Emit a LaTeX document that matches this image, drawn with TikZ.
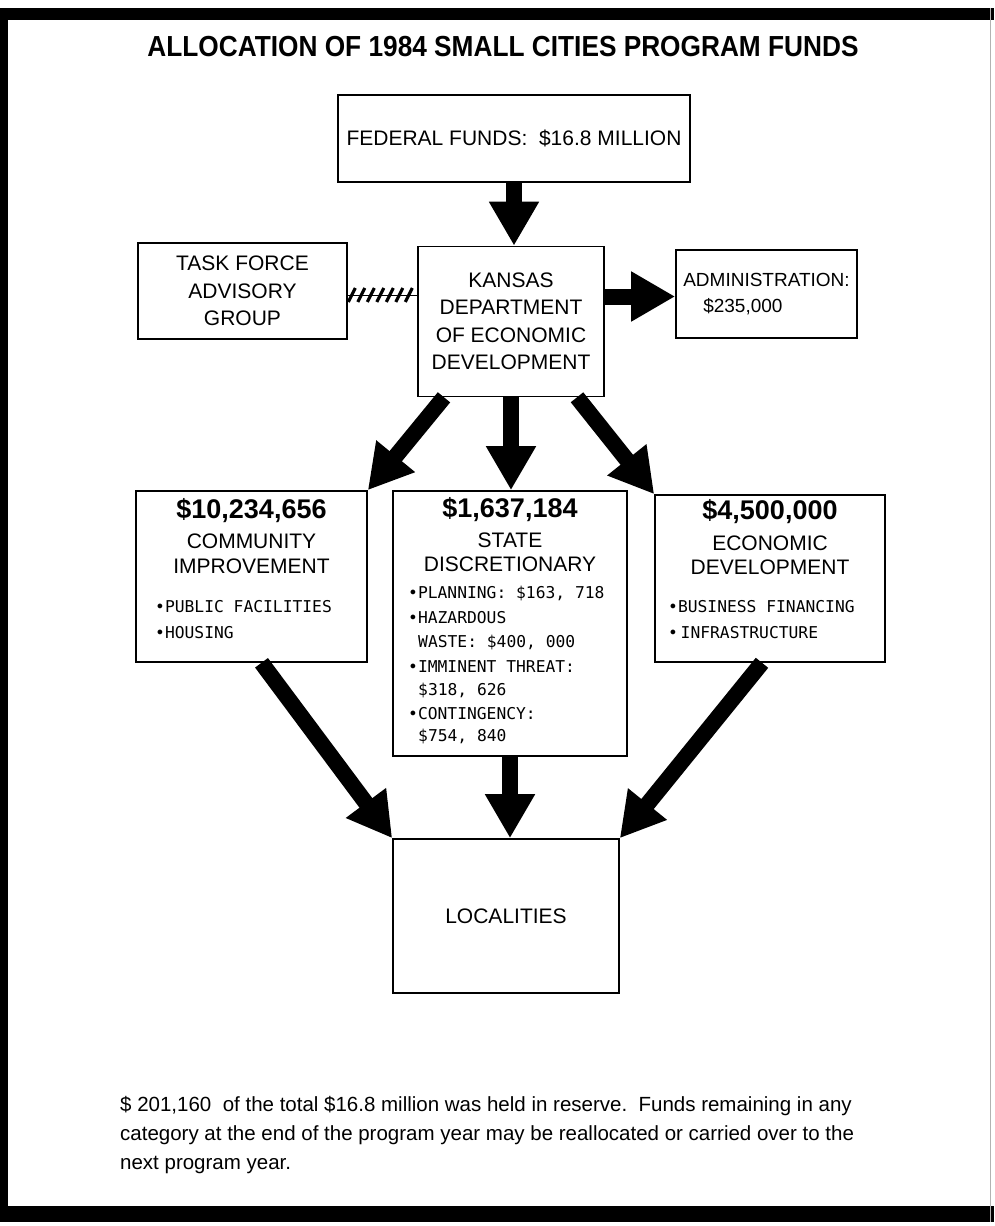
\documentclass[tikz,border=0pt]{standalone}
\usepackage{fontspec}
\usepackage{graphicx}
\setmainfont{Liberation Sans}
\newfontfamily\monof{DejaVu Sans Mono}
\usetikzlibrary{arrows.meta,decorations.markings}
\tikzset{
  box/.style={draw, line width=1.6pt, inner sep=0pt, align=center,
    font=\fontsize{21}{27.5}\selectfont},
  fatarrow/.style={line width=16pt, -{Triangle[length=44pt,width=47pt]}},
  hatchlink/.style={decoration={markings,
      mark=between positions 4pt and -3pt step 9.5pt with
      {\draw[line width=3.2pt] (-3.5pt,-7pt) -- (3.5pt,7pt);}},
    postaction=decorate},
  amt/.style={font=\bfseries\fontsize{27}{30}\selectfont, inner sep=0pt},
  cat/.style={font=\fontsize{21}{25}\selectfont, inner sep=0pt},
  item/.style={font=\monof\fontsize{16.3}{20}\selectfont, inner sep=0pt, anchor=west},
}
\begin{document}
\begin{tikzpicture}[x=1pt,y=-1pt]
\useasboundingbox (0,0) rectangle (994,1226);
% frame
\fill (0,8) rectangle (994,20);
\fill (0,8) rectangle (8,1222);
\fill (0,1206) rectangle (994,1222);
\draw[gray!60, line width=1pt] (990,8) -- (990,1222);
% title
\node[inner sep=0pt] (title) at (503,47)
  {\scalebox{0.905}[1]{\bfseries\fontsize{29}{30}\selectfont ALLOCATION OF 1984 SMALL CITIES PROGRAM FUNDS}};
% boxes
\node[box, minimum width=352pt, minimum height=87pt] (fed) at (514,138.5) {FEDERAL FUNDS:\ \ \$16.8 MILLION};
\node[box, minimum width=209pt, minimum height=96pt] (task) at (242.5,291) {TASK FORCE\\ADVISORY\\GROUP};
\node[box, minimum width=186pt, minimum height=150pt] (kansas) at (511,321.5) {KANSAS\\DEPARTMENT\\OF ECONOMIC\\DEVELOPMENT};
\node[box, minimum width=181pt, minimum height=88pt, align=left, font=\fontsize{19}{26}\selectfont] (admin) at (766.5,294) {ADMINISTRATION:\\\hspace*{20pt}\$235,000};
\node[box, minimum width=231pt, minimum height=171pt] (ci) at (251.5,576.5) {};
\node[box, minimum width=234pt, minimum height=265pt] (sd) at (510,623.5) {};
\node[box, minimum width=230pt, minimum height=167pt] (ed) at (770,578.5) {};
\node[box, minimum width=226pt, minimum height=154pt] (loc) at (506,916) {LOCALITIES};
% texts CI
\node[amt] (ciamt) at (251.5,511) {\$10,234,656};
\node[cat] (cicat1) at (251.5,541) {COMMUNITY};
\node[cat] (cicat2) at (251.5,566) {IMPROVEMENT};
\node[item] (ci1) at (155,607) {•PUBLIC FACILITIES};
\node[item] (ci2) at (155,633) {•HOUSING};
% texts SD
\node[amt] (sdamt) at (510,510) {\$1,637,184};
\node[cat] (sdcat1) at (510,540) {STATE};
\node[cat] (sdcat2) at (510,564) {DISCRETIONARY};
\node[item] (sd1) at (408,593) {•PLANNING: \$163, 718};
\node[item] (sd2) at (408,618) {•HAZARDOUS};
\node[item] (sd3) at (418,642) {WASTE: \$400, 000};
\node[item] (sd4) at (408,667) {•IMMINENT THREAT:};
\node[item] (sd5) at (418,690) {\$318, 626};
\node[item] (sd6) at (408,714) {•CONTINGENCY:};
\node[item] (sd7) at (418,736) {\$754, 840};
% texts ED
\node[amt] (edamt) at (770,512) {\$4,500,000};
\node[cat] (edcat1) at (770,543) {ECONOMIC};
\node[cat] (edcat2) at (770,567) {DEVELOPMENT};
\node[item] (ed1) at (668,607) {•BUSINESS FINANCING};
\node[item] (ed2) at (668,633) {•\,INFRASTRUCTURE};
% connectors
\draw[fatarrow] (fed.south) -- (fed.south |- kansas.north);
\draw[fatarrow] ([yshift=25pt]kansas.east) -- ([yshift=25pt]kansas.east -| admin.west);
\draw[hatchlink] ([yshift=-4pt]task.east) -- ([yshift=-4pt]task.east -| kansas.west);
\draw[fatarrow] ([xshift=-67pt]kansas.south) -- (ci.north east);
\draw[fatarrow] (kansas.south) -- (kansas.south |- sd.north);
\draw[fatarrow] ([xshift=66pt]kansas.south) -- (ed.north west);
\draw[fatarrow] ([xshift=10pt]ci.south) -- (loc.north west);
\draw[fatarrow] (sd.south) -- (sd.south |- loc.north);
\draw[fatarrow] ([xshift=-8pt]ed.south) -- (loc.north east);
% footnote
\node[anchor=north west, align=left, inner sep=0pt, font=\fontsize{20.5}{29}\selectfont] (note) at (120,1096)
  {\$ 201,160\ \ of the total \$16.8 million was held in reserve.\ \ Funds remaining in any\\
   category at the end of the program year may be reallocated or carried over to the\\
   next program year.};
\end{tikzpicture}
\end{document}
